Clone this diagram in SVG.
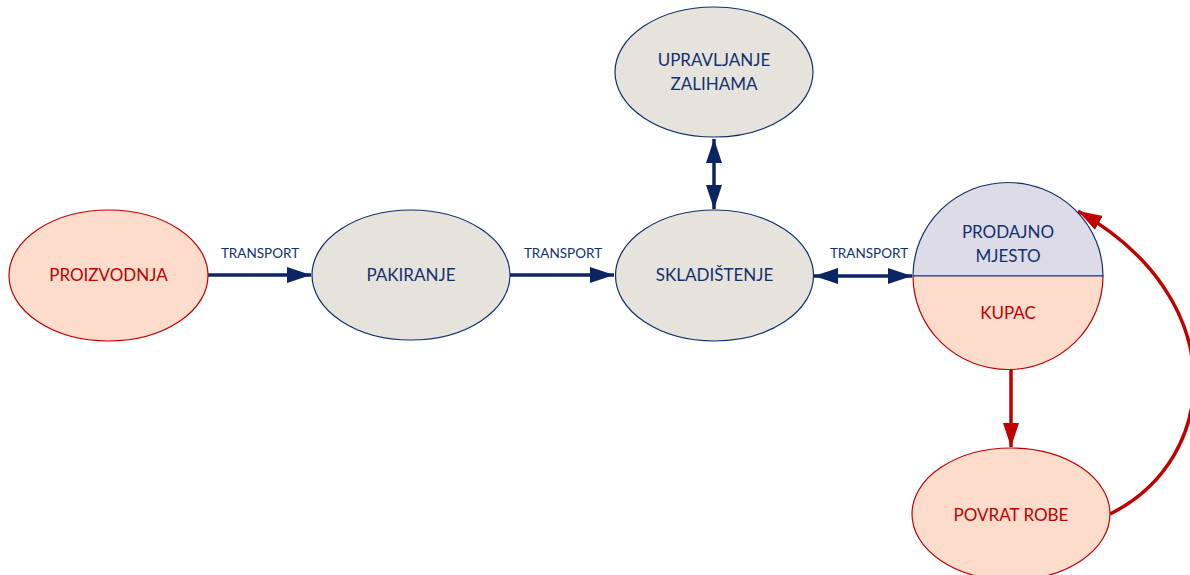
<svg xmlns="http://www.w3.org/2000/svg" width="1190" height="575" viewBox="0 0 1190 575">
<style>
.t{font-family:Lato,"Open Sans","Liberation Sans",sans-serif;font-size:17px;text-anchor:middle}
.navy{fill:#12306e}
.red{fill:#c00000}
.lbl{font-family:Lato,"Open Sans","Liberation Sans",sans-serif;font-size:13.5px;fill:#12306e;text-anchor:middle}
.gray{fill:#e6e3dc;stroke:#12306e;stroke-width:1.2}
.org{fill:#fddccb;stroke:#c00000;stroke-width:1.2}
.cn{stroke:#0a2464;stroke-width:3.5;fill:none}
.cr{stroke:#c00000;stroke-width:3.5;fill:none}
</style>
<defs>
<marker id="an" markerUnits="userSpaceOnUse" markerWidth="24" markerHeight="16" refX="24" refY="8" orient="auto-start-reverse"><path d="M0,0 L24,8 L0,16 Z" fill="#0a2464"/></marker>
<marker id="ar" markerUnits="userSpaceOnUse" markerWidth="24" markerHeight="16" refX="24" refY="8" orient="auto-start-reverse"><path d="M0,0 L24,8 L0,16 Z" fill="#c00000"/></marker>
</defs>
<g id="connectors">
<line class="cn" x1="208" y1="275" x2="311" y2="275" marker-end="url(#an)"/>
<line class="cn" x1="510" y1="275" x2="614" y2="275" marker-end="url(#an)"/>
<line class="cn" x1="714" y1="139" x2="714" y2="209" marker-start="url(#an)" marker-end="url(#an)"/>
<line class="cn" x1="814" y1="276" x2="912" y2="276" marker-start="url(#an)" marker-end="url(#an)"/>
<line class="cr" x1="1011" y1="370" x2="1011" y2="447" marker-end="url(#ar)"/>
<path class="cr" d="M1110,514 C1222,458 1232,298 1078,211" marker-end="url(#ar)"/>
</g>
<g id="labels">
<text class="lbl" x="260" y="258">TRANSPORT</text>
<text class="lbl" x="563" y="258">TRANSPORT</text>
<text class="lbl" x="869" y="258">TRANSPORT</text>
</g>
<g id="proizvodnja">
<ellipse class="org" cx="108.5" cy="275.5" rx="99.5" ry="65.5"/>
<text class="t red" x="108.5" y="281">PROIZVODNJA</text>
</g>
<g id="pakiranje">
<ellipse class="gray" cx="411" cy="275" rx="99" ry="65"/>
<text class="t navy" x="411" y="281">PAKIRANJE</text>
</g>
<g id="skladistenje">
<ellipse class="gray" cx="714.5" cy="275.5" rx="99" ry="65.5"/>
<text class="t navy" x="714.5" y="281">SKLADIŠTENJE</text>
</g>
<g id="upravljanje">
<ellipse class="gray" cx="714" cy="72" rx="99" ry="65"/>
<text class="t navy" x="714" y="66">UPRAVLJANJE</text>
<text class="t navy" x="714" y="90">ZALIHAMA</text>
</g>
<g id="prodajno">
<path d="M913,276 A95,93.5 0 0 1 1103,276 Z" fill="#dddbe8" stroke="#12306e" stroke-width="1.2"/>
<path d="M913,276 A95,93.5 0 0 0 1103,276" fill="#fddccb" stroke="#c00000" stroke-width="1.2"/>
<line x1="913" y1="276" x2="1103" y2="276" stroke="#12306e" stroke-width="1.2"/>
<text class="t navy" x="1008" y="238">PRODAJNO</text>
<text class="t navy" x="1008" y="262">MJESTO</text>
<text class="t red" x="1008" y="319">KUPAC</text>
</g>
<g id="povrat">
<ellipse class="org" cx="1011" cy="514" rx="99" ry="66"/>
<text class="t red" x="1011" y="521">POVRAT ROBE</text>
</g>
</svg>
